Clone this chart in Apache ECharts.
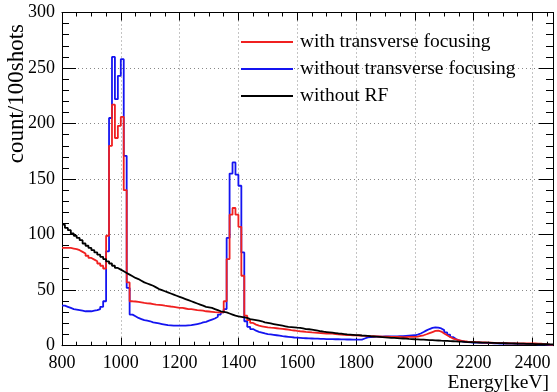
<!DOCTYPE html>
<html>
<head>
<meta charset="utf-8">
<script src="https://cdn.jsdelivr.net/npm/echarts@6/dist/echarts.min.js"></script>
<style>
html, body { margin: 0; padding: 0; background: #fff; }
#chart1 { width: 557px; height: 392px; }
</style>
</head>
<body>
<div id="chart1"></div>
<script>
// histogram bins: 10 keV wide, first bin starts at 800 keV
const binStart = 800
const binWidth = 10
const energyMin = 800
const energyMax = 2470

const seriesNames = ['with transverse focusing', 'without transverse focusing', 'without RF']

// counts per 100 shots, one value per bin (800, 810, ... 2460)
const withFocusing = [
    88, 88, 88, 87.5, 87, 86, 84.5, 83, 81, 79,
    77.5, 76, 74, 72, 69.5, 99, 180, 217, 187, 198,
    206, 140, 57, 40, 39.8, 39.5, 39, 38.5, 38.2, 38,
    37.5, 37, 36.8, 36.5, 36, 35.7, 35.3, 35, 34.5, 34,
    34, 33.5, 33, 33, 32.5, 32, 31.8, 31.5, 31, 30.8,
    30.5, 30.2, 30, 30, 30, 40, 78, 118, 124, 118,
    107, 63, 27, 23, 20.5, 19, 18, 17.5, 17, 16.5,
    16.2, 16, 15.7, 15.4, 15.1, 14.8, 14.5, 14, 13.7, 13.3,
    13, 12.8, 12.5, 12.3, 12, 11.8, 11.6, 11.4, 11.2, 11,
    11, 10.8, 10.5, 10.3, 10, 9.8, 9.6, 9.5, 9.4, 9.3,
    9.2, 9, 8.9, 8.7, 8.6, 8.5, 8.4, 8.3, 8.2, 8.2,
    8.1, 8, 8, 7.9, 7.9, 7.8, 7.8, 7.9, 8, 8,
    8.2, 8.8, 9.4, 10.3, 11.3, 12.3, 13.3, 13.5, 12.7, 11,
    9.4, 7.9, 6.4, 5.6, 4.9, 4.4, 4, 3.7, 3.5, 3.4,
    3.3, 3.1, 3, 2.9, 2.8, 2.7, 2.6, 2.5, 2.4, 2.3,
    2.2, 2.2, 2.1, 2.1, 2.1, 2, 2, 2, 2, 2,
    2, 1.9, 1.8, 1.5, 1.2, 0.9, 0.7
]
const withoutFocusing = [
    36, 35, 34, 33, 32.5, 32, 31.5, 31, 31, 31,
    31.5, 32, 33, 35, 40, 85, 205, 260, 222, 243,
    258, 171, 52, 28, 26.5, 25, 24, 23, 22.5, 22,
    21, 20.5, 20, 19.5, 19, 18.5, 18.3, 18, 18, 18,
    18, 18, 18.3, 18.5, 19, 19.5, 20, 21, 21.5, 22.5,
    23.5, 24.5, 26, 28, 30, 33, 97, 155, 165, 154,
    144, 84, 22, 17, 15, 13.5, 12.5, 11.8, 11, 10.5,
    10.2, 9.8, 9.4, 9, 8.6, 8.3, 8, 7.7, 7.4, 7.2,
    7, 6.8, 6.7, 6.6, 6.5, 6.4, 6.3, 6.2, 6.1, 6,
    6, 5.9, 5.8, 5.8, 5.7, 5.7, 5.6, 5.6, 5.5, 5.5,
    5.5, 5.5, 6.5, 7.5, 7.8, 8, 8.1, 8.2, 8.2, 8.3,
    8.3, 8.3, 8.4, 8.4, 8.5, 8.6, 8.8, 9, 9.2, 9.4,
    10, 11, 12.3, 13.8, 15, 16, 16.5, 16.3, 15.5, 14,
    12, 10, 7.8, 6, 4.8, 4, 3.5, 3.2, 3, 2.9,
    2.8, 2.7, 2.6, 2.5, 2.4, 2.3, 2.2, 2.1, 2, 2,
    1.9, 1.9, 1.8, 1.8, 1.7, 1.7, 1.6, 1.6, 1.5, 1.5,
    1.4, 1.3, 1.3, 1.2, 1.0, 0.8, 0.7
]
const withoutRF = [
    109, 106, 104, 101, 99, 97, 95, 92, 90, 88,
    86, 84, 82, 80, 78, 76, 74, 72, 70, 68.5,
    67, 65.5, 64, 62.5, 61, 60, 58.5, 57, 56, 55,
    54, 52.5, 51, 50, 49, 48, 47, 46, 45, 44,
    43, 42, 41, 40, 39, 38, 37, 36, 35, 34.5,
    34, 33, 32, 31, 30.5, 30, 29, 28, 27, 26.5,
    26, 25.5, 25, 24, 23.5, 23, 22.5, 22, 21, 20.5,
    20, 19.5, 19, 18.5, 18, 17.5, 17, 16.8, 16.5, 16.2,
    16, 15.5, 15, 14.8, 14.4, 14, 13.5, 13, 12.6, 12.3,
    12, 11.7, 11.4, 11, 10.8, 10.5, 10.2, 10, 9.8, 9.6,
    9.5, 9.2, 9, 8.8, 8.5, 8.3, 8.1, 7.9, 7.7, 7.5,
    7.3, 7.1, 7, 6.8, 6.6, 6.5, 6.3, 6.1, 6, 5.8,
    5.7, 5.5, 5.4, 5.3, 5.1, 5, 4.8, 4.7, 4.5, 4.4,
    4.3, 4.1, 4, 3.9, 3.7, 3.6, 3.5, 3.3, 3.2, 3.1,
    3, 2.9, 2.8, 2.7, 2.7, 2.6, 2.5, 2.4, 2.3, 2.3,
    2.2, 2.1, 2.1, 2, 1.9, 1.9, 1.8, 1.7, 1.7, 1.6,
    1.5, 1.5, 1.4, 1.3, 1.3, 1.2, 1.2
]

const serif = '"Liberation Serif", "DejaVu Serif", serif'

// bin contents -> step points (left edge of each bin + closing right edge)
function toSteps (values) {
    let pts = values.map((v, i) => [binStart + i * binWidth, v])
    pts.push([binStart + values.length * binWidth, values[values.length - 1]])
    return pts
}

function histSeries (name, values, color) {
    return {
        name: name,
        type: 'line',
        step: 'end',
        symbol: 'none',
        color: color,
        lineStyle: { color: color, width: 1.8 },
        data: toSteps(values)
    }
}

const chart1 = echarts.init(document.getElementById('chart1'))

const frameAxis = {
    axisLine: { show: true, onZero: false, lineStyle: { color: '#000', width: 1 } },
    axisLabel: { show: false },
    splitLine: { show: false }
}

let option = {
    animation: false,
    backgroundColor: '#fff',
    grid: {
        left: 62,
        right: 4,
        top: 12.5,
        bottom: 46.3,
        containLabel: false,
        outerBoundsMode: 'none'
    },
    legend: {
        orient: 'vertical',
        left: 241,
        top: 32,
        icon: 'rect',
        itemWidth: 52,
        itemHeight: 2,
        itemGap: 7,
        padding: 0,
        data: seriesNames,
        textStyle: { fontFamily: serif, fontSize: 19.5, lineHeight: 20, color: '#000', padding: [0, 0, 0, 2] }
    },
    xAxis: [
        {
            type: 'value',
            position: 'bottom',
            min: energyMin,
            max: energyMax,
            interval: 200,
            name: 'Energy[keV]',
            nameLocation: 'end',
            nameGap: -4,
            nameTextStyle: {
                fontFamily: serif, fontSize: 19.5, color: '#000',
                align: 'right', verticalAlign: 'top', padding: [27, 0, 0, 0]
            },
            axisLine: { show: true, onZero: false, lineStyle: { color: '#000', width: 1 } },
            axisTick: { show: true, inside: true, length: 8, lineStyle: { color: '#000' } },
            minorTick: { show: true, splitNumber: 4, length: 4, lineStyle: { color: '#000' } },
            axisLabel: {
                fontFamily: serif, fontSize: 18, color: '#000', margin: 9,
                showMaxLabel: false,
                formatter: (v) => String(v)
            },
            splitLine: { show: true, lineStyle: { color: '#888', type: [1, 3], width: 1 } }
        },
        Object.assign({
            type: 'value',
            position: 'top',
            min: energyMin,
            max: energyMax,
            interval: 200,
            axisTick: { show: true, inside: true, length: 8, lineStyle: { color: '#000' } },
            minorTick: { show: true, splitNumber: 4, length: 4, lineStyle: { color: '#000' } }
        }, frameAxis)
    ],
    yAxis: [
        {
            type: 'value',
            position: 'left',
            min: 0,
            max: 300,
            interval: 50,
            axisLine: { show: true, onZero: false, lineStyle: { color: '#000', width: 1 } },
            axisTick: { show: true, inside: true, length: 14, lineStyle: { color: '#000' } },
            minorTick: { show: true, splitNumber: 5, length: 7, lineStyle: { color: '#000' } },
            axisLabel: { fontFamily: serif, fontSize: 18, color: '#000', margin: 7, formatter: (v) => String(v) },
            splitLine: { show: true, lineStyle: { color: '#888', type: [1, 3], width: 1 } }
        },
        Object.assign({
            type: 'value',
            position: 'right',
            min: 0,
            max: 300,
            interval: 50,
            axisTick: { show: true, inside: true, length: 14, lineStyle: { color: '#000' } },
            minorTick: { show: true, splitNumber: 5, length: 7, lineStyle: { color: '#000' } }
        }, frameAxis)
    ],
    graphic: [
        {
            type: 'text',
            x: 17,
            y: 24,
            rotation: Math.PI / 2,
            style: {
                text: 'count/100shots',
                font: '23px ' + serif,
                fill: '#000',
                textAlign: 'right',
                textVerticalAlign: 'middle'
            }
        }
    ],
    series: [
        histSeries(seriesNames[1], withoutFocusing, '#1414f0'),
        histSeries(seriesNames[0], withFocusing, '#f02020'),
        histSeries(seriesNames[2], withoutRF, '#000000')
    ]
}
chart1.setOption(option)
</script>
</body>
</html>
